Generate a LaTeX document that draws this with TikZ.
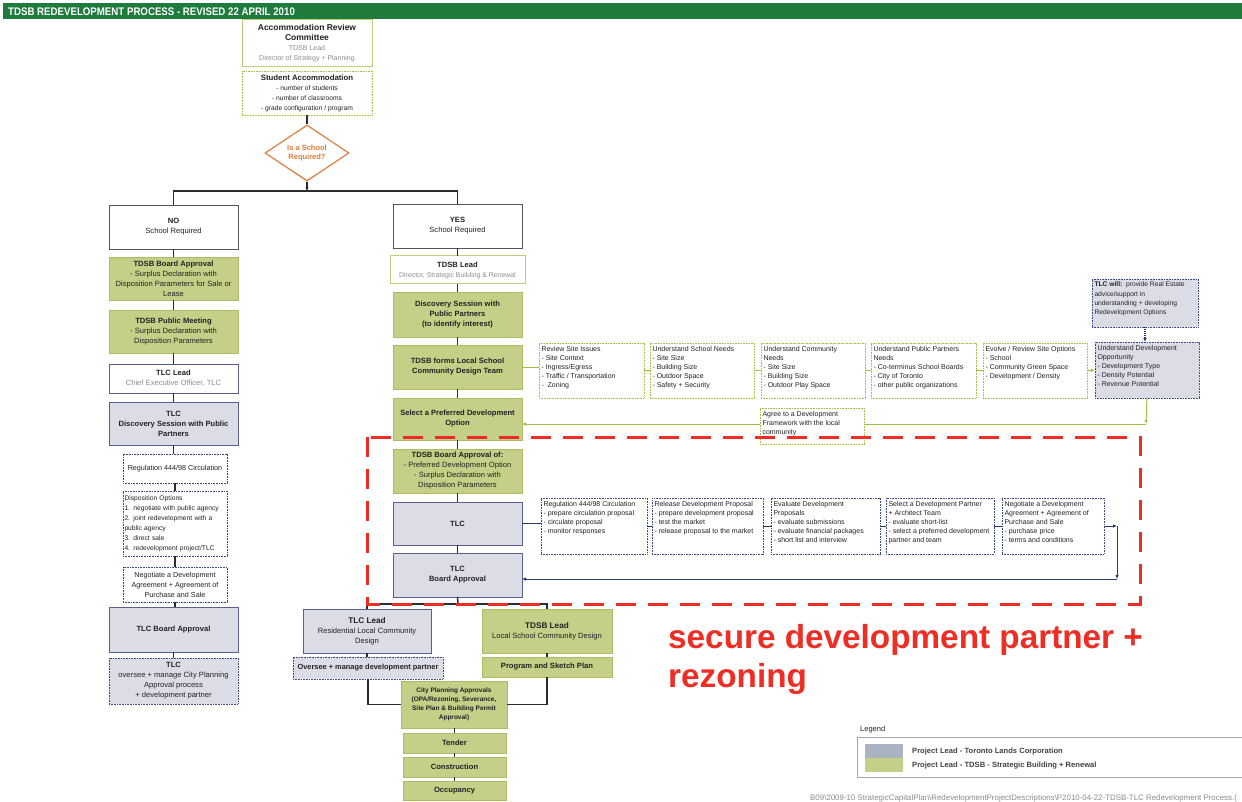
\documentclass[tikz,border=0pt]{standalone}
\usepackage{fontspec}
\setmainfont{Liberation Sans}
\usepackage{graphicx}
\usetikzlibrary{shapes.geometric,arrows.meta}
\definecolor{hdr}{HTML}{1E7B3C}
\definecolor{gfill}{HTML}{C6CF88}
\definecolor{gdraw}{HTML}{ADBA66}
\definecolor{tfill}{HTML}{DCDCE6}
\definecolor{tdraw}{HTML}{5A5F92}
\definecolor{wgdraw}{HTML}{BBD07C}
\definecolor{dgdraw}{HTML}{A3C24A}
\definecolor{dbdraw}{HTML}{3B4986}
\definecolor{connc}{HTML}{2B2B2B}
\definecolor{glinec}{HTML}{9DC23D}
\definecolor{nlinec}{HTML}{2A3A6E}
\definecolor{orangec}{HTML}{E07B39}
\definecolor{redc}{HTML}{EE2E24}
\definecolor{subgray}{HTML}{8C8C8C}
\definecolor{txt}{HTML}{222222}
\definecolor{legsw}{HTML}{A9B3C1}
\newcommand\tb[7]{%
  \node[#2, minimum width={#5pt-#3pt}, minimum height={#6pt-#4pt}] (#1) at ({(#3+#5)/2},{(#4+#6)/2}) {#7};}
\newcommand\tbt[7]{%
  \pgfmathsetmacro\tbw{#5-#3-5}\pgfmathsetmacro\tbh{#6-#4-4}%
  \node[#2, inner sep=0pt, minimum width={#5pt-#3pt}, minimum height={#6pt-#4pt}] (#1) at ({(#3+#5)/2},{(#4+#6)/2}) {\parbox[c][\tbh pt][t]{\tbw pt}{\raggedright\vspace*{1pt}#7}};}
\tikzset{
  base/.style={rectangle, inner sep=1pt, outer sep=0pt, align=center, text=txt, font=\fontsize{7.6}{10}\selectfont},
  wbox/.style={base, draw=connc!80, fill=white, line width=0.8pt},
  gbox/.style={base, fill=gfill, draw=gdraw, line width=0.6pt},
  tbox/.style={base, fill=tfill, draw=tdraw, line width=1pt},
  wbbox/.style={base, fill=white, draw=tdraw, line width=1pt},
  wgbox/.style={base, fill=white, draw=wgdraw, line width=1pt},
  dgbox/.style={base, fill=white, draw=dgdraw, line width=0.8pt, dash pattern=on 0.8pt off 0.8pt},
  dbbox/.style={base, fill=white, draw=dbdraw, line width=0.8pt, dash pattern=on 0.8pt off 0.8pt},
  dtbox/.style={base, fill=tfill, draw=dbdraw, line width=0.8pt, dash pattern=on 0.8pt off 0.8pt},
  rowf/.style={font=\fontsize{7}{9.1}\selectfont},
  diam/.style={diamond, draw=orangec, fill=white, line width=1.2pt, text=orangec, inner sep=0pt, align=center,
    minimum width=84pt, minimum height=54pt, font=\fontsize{7.5}{9.5}\selectfont\bfseries},
  conn/.style={draw=connc, line width=1.5pt},
  gconn/.style={draw=glinec, line width=1pt},
  nconn/.style={draw=nlinec, line width=1pt},
  tip/.style={-{Latex[length=4pt,width=3.5pt]}},
  redbox/.style={draw=redc, line width=3pt, dash pattern=on 20pt off 12pt},
}
\begin{document}
\begin{tikzpicture}[x=1pt,y=-1pt]
\useasboundingbox (0,0) rectangle (1242,802);
\fill[white] (0,0) rectangle (1242,802);
% header
\fill[hdr] (3,3) rectangle (1242,19);
\node[anchor=west, text=white, inner sep=0pt, font=\fontsize{11}{11}\selectfont\bfseries] (title) at (8,11.5)
  {\scalebox{0.88}[1]{TDSB REDEVELOPMENT PROCESS - REVISED 22 APRIL 2010}};

% top
\tb{arc}{wgbox}{242}{20}{372}{67}{\fontsize{8.5}{10}\selectfont\textbf{Accommodation Review}\\\fontsize{8.5}{10}\selectfont\textbf{Committee}\\\fontsize{7}{9.5}\selectfont\textcolor{subgray}{TDSB Lead}\\\fontsize{7}{9.5}\selectfont\textcolor{subgray}{Director of Strategy + Planning}}
\tb{sa}{dgbox}{242}{71}{372}{115}{\fontsize{7.8}{9.5}\selectfont\textbf{Student Accommodation}\\\fontsize{6.7}{9.5}\selectfont - number of students\\\fontsize{6.7}{9.5}\selectfont - number of classrooms\\\fontsize{6.7}{9.5}\selectfont - grade configuration / program}
\node[diam] (isr) at (307,153) {Is a School\\Required?};
\coordinate (sp) at (307,191);

% left column
\tb{no}{wbox}{109}{205}{238}{249}{\textbf{NO}\\School Required}
\tb{tba}{gbox}{109}{257}{238}{300}{\textbf{TDSB Board Approval}\\- Surplus Declaration with\\Disposition Parameters for Sale or\\Lease}
\tb{tpm}{gbox}{109}{310}{238}{353}{\textbf{TDSB Public Meeting}\\- Surplus Declaration with\\Disposition Parameters}
\tb{tlclead}{wbbox}{109}{364}{238}{393}{\textbf{TLC Lead}\\\textcolor{subgray}{Chief Executive Officer, TLC}}
\tb{tds}{tbox}{109}{402}{238}{445}{\textbf{TLC}\\\textbf{Discovery Session with Public}\\\textbf{Partners}}
\tb{reg1}{dbbox, font=\fontsize{7.2}{10}\selectfont}{123}{454}{227}{483}{Regulation 444/98 Circulation}
\tb{dop}{dbbox, align=left, text width=101pt, font=\fontsize{6.7}{10}\selectfont}{123}{491}{227}{556}{Disposition Options\\1. negotiate with public agency\\2. joint redevelopment with a\\public agency\\3. direct sale\\4. redevelopment project/TLC}
\tb{nda1}{dbbox, font=\fontsize{7.2}{10}\selectfont}{123}{567}{227}{602}{Negotiate a Development\\Agreement + Agreement of\\Purchase and Sale}
\tb{tlcba1}{tbox}{109}{607}{238}{652}{\textbf{TLC Board Approval}}
\tb{ovs}{dtbox}{109}{658}{238}{704}{\textbf{TLC}\\oversee + manage City Planning\\Approval process\\+ development partner}

% middle column
\tb{yes}{wbox}{393}{204}{522}{248}{\textbf{YES}\\School Required}
\tb{tdsblead}{wgbox}{390}{256}{525}{284}{\textbf{TDSB Lead}\\\textcolor{subgray}{\fontsize{6.9}{9}\selectfont Director, Strategic Building \& Renewal}}
\tb{dsp}{gbox}{393}{292}{522}{337}{\textbf{Discovery Session with}\\\textbf{Public Partners}\\\textbf{(to identify interest)}}
\tb{forms}{gbox}{393}{345}{522}{389}{\textbf{TDSB forms Local School}\\\textbf{Community Design Team}}
\tb{spdo}{gbox}{393}{398}{522}{440}{\textbf{Select a Preferred Development}\\\textbf{Option}}
\tb{tbao}{gbox}{393}{449}{522}{493}{\textbf{TDSB Board Approval of:}\\- Preferred Development Option\\- Surplus Declaration with\\Disposition Parameters}
\tb{tlc}{tbox}{393}{502}{522}{545}{\textbf{TLC}}
\tb{tlcba}{tbox}{393}{553}{522}{597}{\textbf{TLC}\\\textbf{Board Approval}}

% green row
\tbt{rsi}{dgbox, rowf}{539}{343}{644}{398}{Review Site Issues\\- Site Context\\- Ingress/Egress\\- Traffic / Transportation\\-\ \ Zoning}
\tbt{usn}{dgbox, rowf}{650}{343}{754}{398}{Understand School Needs\\- Site Size\\- Building Size\\- Outdoor Space\\- Safety + Security}
\tbt{ucn}{dgbox, rowf}{761}{343}{865}{398}{Understand Community\\Needs\\- Site Size\\- Building Size\\- Outdoor Play Space}
\tbt{uppn}{dgbox, rowf}{871}{343}{976}{398}{Understand Public Partners\\Needs\\- Co-terminus School Boards\\- City of Toronto\\- other public organizations}
\tbt{ers}{dgbox, rowf}{983}{343}{1087}{398}{Evolve / Review Site Options\\- School\\- Community Green Space\\- Development / Density}
\tbt{udo}{dtbox, rowf}{1095}{342}{1199}{398}{Understand Development\\Opportunity\\- Development Type\\- Density Potential\\- Revenue Potential}
\tbt{tlcw}{dtbox, font=\fontsize{6.7}{9.2}\selectfont}{1092}{279}{1198}{327}{\textbf{TLC will:}\ \ provide Real Estate\\advice/support in\\understanding + developing\\Redevelopment Options}

% dashed row
\tbt{reg2}{dbbox, rowf}{541}{498}{647}{554}{Regulation 444/98 Circulation\\- prepare circulation proposal\\- circulate proposal\\- monitor responses}
\tbt{rdp}{dbbox, rowf}{652}{498}{763}{554}{Release Development Proposal\\- prepare development proposal\\- test the market\\- release proposal to the market}
\tbt{edp}{dbbox, rowf}{771}{498}{880}{554}{Evaluate Development\\Proposals\\- evaluate submissions\\- evaluate financial packages\\- short list and interview}
\tbt{sdp}{dbbox, rowf}{886}{498}{994}{554}{Select a Development Partner\\+ Architect Team\\- evaluate short-list\\- select a preferred development\\partner and team}
\tbt{nda2}{dbbox, rowf}{1002}{498}{1104}{554}{Negotiate a Development\\Agreement + Agreement of\\Purchase and Sale\\- purchase price\\- terms and conditions}

% bottom
\tb{tlcl2}{tbox}{303}{609}{431}{653}{\fontsize{8.2}{10}\selectfont\textbf{TLC Lead}\\Residential Local Community\\Design}
\tb{ovm}{dtbox, font=\fontsize{7.4}{10}\selectfont}{293}{657}{443}{679}{\textbf{Oversee + manage development partner}}
\tb{tdsbl2}{gbox}{482}{609}{612}{653}{\fontsize{8.2}{10}\selectfont\textbf{TDSB Lead}\\Local School Community Design}
\tb{psp}{gbox}{482}{657}{612}{677}{\textbf{Program and Sketch Plan}}
\tb{cpa}{gbox, font=\fontsize{6.5}{9}\selectfont\bfseries}{401}{681}{507}{728}{City Planning Approvals\\(OPA/Rezoning, Severance,\\Site Plan \& Building Permit\\Approval)}
\tb{ten}{gbox}{403}{733}{506}{753}{\textbf{Tender}}
\tb{con}{gbox}{403}{757}{506}{777}{\textbf{Construction}}
\tb{occ}{gbox}{403}{781}{506}{800}{\textbf{Occupancy}}
\coordinate (bs) at (458,604);

% connectors: top
\draw[conn] (sa.south) -- (isr.north);
\draw[conn, -{Latex[length=3.5pt,width=3.5pt]}] (isr.south) -- (sp);
\draw[conn] (no.north) |- (sp) -| (yes.north);
% left chain
\foreach \a/\b in {no/tba, tba/tpm, tpm/tlclead, tlclead/tds, tds/reg1, reg1/dop, dop/nda1, nda1/tlcba1, tlcba1/ovs}
  \draw[conn] (\a.south) -- (\a.south |- \b.north);
% middle chain
\foreach \a/\b in {yes/tdsblead, tdsblead/dsp, dsp/forms, forms/spdo, spdo/tbao, tbao/tlc, tlc/tlcba}
  \draw[conn] (\a.south) -- (\a.south |- \b.north);
% bottom
\draw[conn] (tlcba.south) -- (bs);
\draw[conn] (tlcl2.north) |- (bs) -| (tdsbl2.north);
\draw[conn] (tlcl2.south) -- (tlcl2.south |- ovm.north);
\draw[conn] (tdsbl2.south) -- (tdsbl2.south |- psp.north);
\draw[conn] (ovm.south) |- (cpa.west);
\draw[conn] (psp.south) |- (cpa.east);
\foreach \a/\b in {cpa/ten, ten/con, con/occ}
  \draw[conn, line width=1pt] (\a.south) -- (\a.south |- \b.north);
% green row connectors
\draw[gconn] (forms.east) -- (forms.east -| rsi.west);
\foreach \a/\b in {rsi/usn, usn/ucn, ucn/uppn, uppn/ers}
  \draw[gconn] (\a.east) -- (\b.west);
\draw[gconn, tip] (ers.east) -- (udo.west);
\draw[nconn, dash pattern=on 1pt off 1pt, line width=1.2pt, tip] (tlcw.south) -- (tlcw.south |- udo.north);
\coordinate (udoc) at (1146,424);
\draw[gconn, tip] (udo.south) -- (udoc);
\draw[gconn, tip] (udoc) -- (spdo.east |- udoc);
\tbt{agree}{dgbox, rowf}{760}{408}{864}{444}{Agree to a Development\\Framework with the local\\community}
% dashed row connectors
\draw[nconn] (tlc.east) -- (tlc.east -| reg2.west);
\foreach \a/\b in {reg2/rdp, rdp/edp, edp/sdp, sdp/nda2}
  \draw[nconn] (\a.east) -- (\b.west);
\coordinate (nc) at (1117,579);
\draw[nconn, tip] (nda2.east) -- (nda2.east -| nc);
\draw[nconn, tip] (nda2.east -| nc) -- (nc);
\draw[nconn, tip] (nc) -- (tlcba.east |- nc);

% red highlight
\draw[redbox] (367,437) rectangle (1140,604);
\node[anchor=base west, inner sep=0pt, text=redc, align=left, font=\fontsize{33.3}{39}\selectfont\bfseries] (redtxt) at (668,687)
  {secure development partner +\\rezoning};

% legend
\node[anchor=west, inner sep=0pt, font=\fontsize{7.5}{8}\selectfont, text=txt] (legt) at (860,730) {Legend};
\draw[draw=gray!70, line width=0.6pt] (857,737) rectangle (1250,777);
\fill[legsw] (865,744) rectangle (903,758);
\fill[gfill] (865,758) rectangle (903,772);
\node[anchor=west, inner sep=0pt, font=\fontsize{7.6}{8}\selectfont\bfseries, text=txt!85] (leg1) at (912,752) {Project Lead - Toronto Lands Corporation};
\node[anchor=west, inner sep=0pt, font=\fontsize{7.6}{8}\selectfont\bfseries, text=txt!85] (leg2) at (912,766) {Project Lead - TDSB - Strategic Building + Renewal};

% footer
\node[anchor=base west, inner sep=0pt, font=\fontsize{7.9}{8}\selectfont, text=subgray] (foot) at (810,800)
  {B09\textbackslash 2009-10 StrategicCapitalPlan\textbackslash RedevelopmentProjectDescriptions\textbackslash P2010-04-22-TDSB-TLC Redevelopment Process.(};
\end{tikzpicture}
\end{document}
